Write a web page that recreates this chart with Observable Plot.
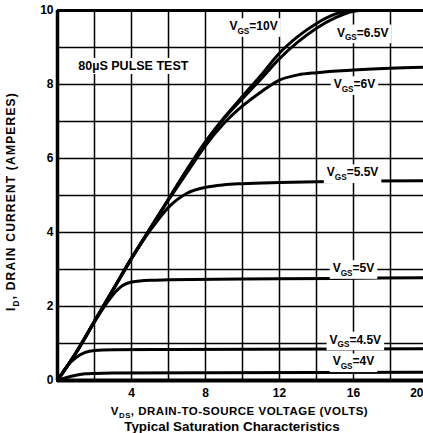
<!DOCTYPE html>
<html>
<head>
<meta charset="utf-8">
<script src="https://cdn.jsdelivr.net/npm/d3@7"></script>
<script src="https://cdn.jsdelivr.net/npm/@observablehq/plot@0.6"></script>
<style>
  html, body { margin: 0; padding: 0; background: white; overflow: hidden; }
  #chart svg { display: block; max-width: none !important; width: 432px !important; height: 420px !important; }
  #subtitle { font-family: "Liberation Sans", Arial, sans-serif; font-weight: bold; font-size: 13.4px; line-height: 13px; text-align: center; padding-left: 41px; width: 382px; color: black; }
</style>
</head>
<body>
<div id="chart"></div>
<div id="subtitle">Typical Saturation Characteristics</div>
<script>
// Drain current curves, [VDS (V), ID (A)]
const vgs10 = [[0,0],[1,0.75],[2,1.6],[3,2.45],[4,3.3],[5,4.1],[6,4.9],[7,5.7],[8,6.45],[9,7.1],[10,7.68],[11,8.25],[12,8.85],[13,9.3],[14,9.65],[15,9.9],[15.7,10]];
const vgs65 = [[0,0],[1,0.75],[2,1.6],[3,2.45],[4,3.3],[5,4.1],[6,4.9],[7,5.7],[8,6.45],[9,7.08],[10,7.62],[11,8.15],[12,8.7],[13,9.15],[14,9.52],[15,9.8],[16,9.98],[16.3,10]];
const vgs6  = [[0,0],[1,0.75],[2,1.6],[3,2.45],[4,3.3],[5,4.1],[6,4.88],[7,5.62],[8,6.35],[9,6.95],[10,7.42],[11,7.8],[12,8.12],[13,8.26],[14,8.32],[16,8.39],[18,8.44],[20,8.47]];
const vgs55 = [[0,0],[1,0.75],[2,1.6],[3,2.45],[4,3.3],[5,4.05],[6,4.68],[7,5.06],[8,5.22],[9,5.29],[10,5.32],[12,5.35],[14,5.37],[17,5.39],[20,5.4]];
const vgs5  = [[0,0],[1,0.75],[2,1.58],[2.6,2.05],[3,2.32],[3.5,2.56],[4,2.66],[5,2.71],[6,2.72],[10,2.74],[15,2.76],[20,2.78]];
const vgs45 = [[0,0],[0.5,0.38],[1,0.62],[1.5,0.76],[2,0.81],[3,0.83],[6,0.84],[20,0.86]];
const vgs4  = [[0,0],[0.5,0.08],[1,0.14],[1.5,0.18],[2,0.19],[3,0.2],[8,0.21],[20,0.22]];

// Curve labels and their anchor positions in data units
const labelText = ["VGS=10V","VGS=6.5V","VGS=6V","VGS=5.5V","VGS=5V","VGS=4.5V","VGS=4V"];
const labelVds  = [10.6, 16.5, 16.05, 15.95, 16.0, 16.1, 16.0];
const labelId   = [9.57, 9.4, 8.0, 5.62, 3.03, 1.1, 0.51];
const noteText = ["80µS PULSE TEST"];
const noteVds = [4.1];
const noteId = [8.5];

// Axes
const xTicks = [4, 8, 12, 16];
const xLastTick = [20];
const yTicks = [0, 2, 4, 6, 8, 10];
const xGrid = [2, 4, 6, 8, 10, 12, 14, 16, 18];
const yGrid = [1, 2, 3, 4, 5, 6, 7, 8, 9];
const xTitle = "VDS, DRAIN-TO-SOURCE VOLTAGE (VOLTS)";
const yTitle = "ID, DRAIN CURRENT (AMPERES)";

const curves = [vgs10, vgs65, vgs6, vgs55, vgs5, vgs45, vgs4];
const labels = labelText.map((t, i) => ({t, x: labelVds[i], y: labelId[i]}));
const notes = noteText.map((t, i) => ({t, x: noteVds[i], y: noteId[i]}));

const font = "'Liberation Sans', Arial, Helvetica, sans-serif";

const plot = Plot.plot({
  width: 432,
  height: 420,
  marginLeft: 57,
  marginRight: 5,
  marginTop: 10,
  marginBottom: 40,
  style: {fontFamily: font, fontSize: "12px", fontWeight: "bold", color: "black", background: "white"},
  x: {domain: [0, 20], ticks: xTicks, tickSize: 0, tickPadding: 8, label: null},
  y: {domain: [0, 10], ticks: yTicks, tickSize: 0, tickPadding: 4, label: null},
  marks: [
    Plot.ruleX(xGrid, {stroke: "black", strokeWidth: 1.5}),
    Plot.ruleY(yGrid, {stroke: "black", strokeWidth: 1.5}),
    ...curves.map(c => Plot.line(c, {x: d => d[0], y: d => d[1], stroke: "black", strokeWidth: 3, curve: "monotone-x"})),
    Plot.ruleX([0], {stroke: "black", strokeWidth: 3.5}),
    Plot.ruleY([0], {stroke: "black", strokeWidth: 4}),
    Plot.ruleY([10], {stroke: "black", strokeWidth: 3}),
    Plot.ruleX([20], {stroke: "black", strokeWidth: 3}),
    Plot.text(xLastTick, {x: d => d, frameAnchor: "bottom", textAnchor: "end", lineAnchor: "top", dx: -4, dy: 8, fontSize: 12, fontWeight: "bold", fill: "black"}),
    Plot.text(labels, {x: "x", y: "y", text: "t", fontSize: 12, fontWeight: "bold", fill: "black"}),
    Plot.text(notes, {x: "x", y: "y", text: "t", fontSize: 12.5, fontWeight: "bold", fill: "black"}),
    Plot.text([yTitle], {frameAnchor: "left", textAnchor: "middle", rotate: -90, dx: -46, dy: 6, fontSize: 12, fontWeight: "bold", fill: "black"}),
    Plot.text([xTitle], {frameAnchor: "bottom", textAnchor: "middle", dx: -3, dy: 34, fontSize: 11.5, fontWeight: "bold", fill: "black"})
  ]
});

document.getElementById("chart").appendChild(plot);

// subscripts, letter spacing and white label boxes
const boxed = new Set([...labelText, ...noteText]);
const spacing = new Map([[yTitle, "1.2px"], [xTitle, "0.5px"]]);
plot.querySelectorAll("text").forEach(el => {
  const raw = el.textContent;
  const isBoxed = boxed.has(raw);
  if (spacing.has(raw)) el.style.letterSpacing = spacing.get(raw);
  const m = raw.match(/^([VI])(GS|DS|D)([=,].*)$/);
  if (m) {
    const fs = parseFloat(el.getAttribute("font-size") || getComputedStyle(el).fontSize) || 12;
    const sub = Math.round(fs * 0.68 * 10) / 10;
    const shift = fs * 0.3;
    while (el.firstChild) el.removeChild(el.firstChild);
    const ns = "http://www.w3.org/2000/svg";
    const a = document.createElementNS(ns, "tspan"); a.textContent = m[1];
    const b = document.createElementNS(ns, "tspan"); b.textContent = m[2];
    b.setAttribute("font-size", sub); b.setAttribute("dy", shift);
    const c = document.createElementNS(ns, "tspan"); c.textContent = m[3];
    c.setAttribute("dy", -shift);
    el.appendChild(a); el.appendChild(b); el.appendChild(c);
  }
  if (isBoxed) {
    const bb = el.getBBox();
    const r = document.createElementNS("http://www.w3.org/2000/svg", "rect");
    r.setAttribute("x", bb.x - 3);
    r.setAttribute("y", bb.y - 1);
    r.setAttribute("width", bb.width + 6);
    r.setAttribute("height", bb.height + 2);
    r.setAttribute("fill", "white");
    const tr = el.getAttribute("transform");
    if (tr) r.setAttribute("transform", tr);
    el.parentNode.insertBefore(r, el);
  }
});
</script>
</body>
</html>
